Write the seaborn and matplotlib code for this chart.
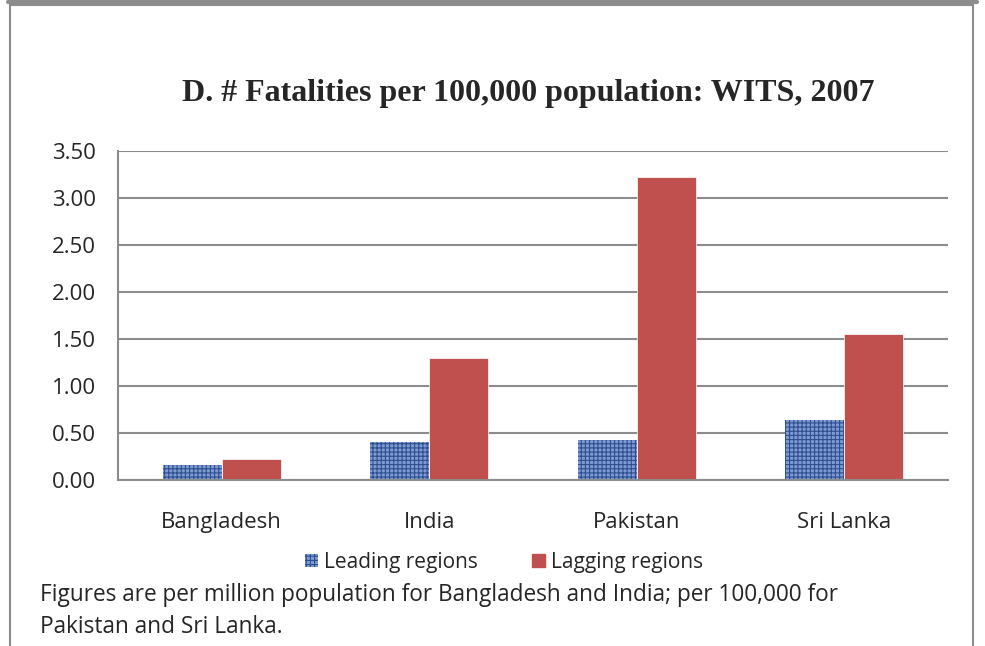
import matplotlib
matplotlib.use("Agg")
import matplotlib.pyplot as plt
import seaborn as sns
import pandas as pd
from matplotlib.patches import Rectangle, Patch
from matplotlib.lines import Line2D

# data
countries = ["Bangladesh", "India", "Pakistan", "Sri Lanka"]
leading = [0.16, 0.40, 0.43, 0.64]
lagging = [0.22, 1.30, 3.23, 1.55]
series_names = ["Leading regions", "Lagging regions"]
y_ticks = [0.0, 0.5, 1.0, 1.5, 2.0, 2.5, 3.0, 3.5]

df = pd.DataFrame({
    "country": countries * 2,
    "value": leading + lagging,
    "series": [series_names[0]] * 4 + [series_names[1]] * 4,
})

sns.set_style("white")
plt.rcParams["font.family"] = ["Open Sans", "DejaVu Sans"]
plt.rcParams["hatch.linewidth"] = 0.8

fig = plt.figure(figsize=(9.85, 6.46), dpi=100)
ax = fig.add_axes([0.1198, 0.257, 0.8426, 0.509])

blue = "#7d9bd2"
red = "#c0504d"
sns.barplot(data=df, x="country", y="value", hue="series",
            palette=[blue, red], width=0.57, gap=0, saturation=1,
            legend=False, ax=ax)

# speckled texture on the leading bars
for bar in ax.patches[:4]:
    bar.set_hatch("++++")
    bar.set_edgecolor("#2f4f8f")
    bar.set_linewidth(0)
for bar in ax.patches[4:]:
    bar.set_edgecolor("white")
    bar.set_linewidth(0.5)

grey = "#8c8c8c"
ax.set_ylim(0, 3.5)
ax.set_xlim(-0.5, 3.5)
ax.set_yticks(y_ticks)
ax.set_yticklabels([f"{v:.2f}" for v in y_ticks], fontsize=16)
ax.yaxis.grid(True, color=grey, linewidth=1.5)
ax.set_axisbelow(True)
ax.set_xticks(range(len(countries)))
ax.set_xticklabels(countries, fontsize=16)
ax.set_xticks([-0.5, 0.5, 1.5, 2.5, 3.5], minor=True)
ax.tick_params(axis="x", which="major", length=0, pad=23)
ax.tick_params(axis="x", which="minor", length=8, color=grey, width=1.5)
ax.tick_params(axis="y", length=6, color=grey, width=1.5, pad=10)
ax.set_xlabel("")
ax.set_ylabel("")
for side in ["top", "right"]:
    ax.spines[side].set_visible(False)
for side in ["left", "bottom"]:
    ax.spines[side].set_color(grey)
    ax.spines[side].set_linewidth(1.5)

fig.text(0.536, 0.855, "D. # Fatalities per 100,000 population: WITS, 2007",
         ha="center", va="center", fontsize=23, fontweight="bold",
         family=["Liberation Serif", "DejaVu Serif"])

handles = [Patch(facecolor=blue, edgecolor="#2f4f8f", hatch="++++", linewidth=0),
           Patch(facecolor=red, edgecolor=red)]
fig.legend(handles, series_names, loc="center", bbox_to_anchor=(0.512, 0.13),
           ncol=2, frameon=False, fontsize=15, handlelength=0.6,
           handleheight=0.6, handletextpad=0.3, columnspacing=2.6)

fig.text(0.041, 0.079, "Figures are per million population for Bangladesh and India; per 100,000 for",
         ha="left", va="center", fontsize=16.3)
fig.text(0.041, 0.029, "Pakistan and Sri Lanka.", ha="left", va="center", fontsize=16.3)

# outer frame
fig.add_artist(Line2D([0.008, 0.992], [0.997, 0.997], color=grey, linewidth=3,
                      transform=fig.transFigure))
fig.add_artist(Rectangle((0.0105, -0.05), 0.977, 1.042, fill=False,
                         edgecolor=grey, linewidth=1.5, transform=fig.transFigure))

fig.savefig("out.png", dpi=100)
